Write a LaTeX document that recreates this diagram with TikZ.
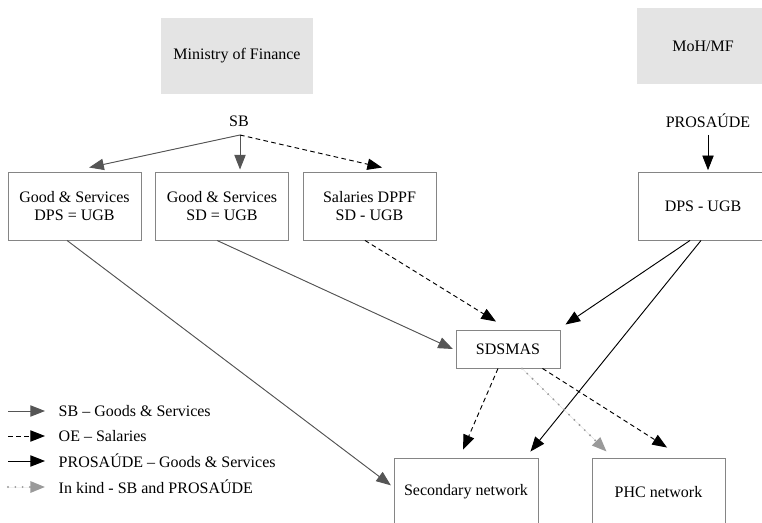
\documentclass[tikz,border=0pt]{standalone}
\usepackage{fontspec}
\setmainfont{Liberation Serif}
\usetikzlibrary{arrows.meta}
\definecolor{govgray}{HTML}{E4E4E4}
\definecolor{sbgray}{HTML}{555555}
\definecolor{boxline}{HTML}{858585}
\definecolor{kindgray}{HTML}{9A9A9A}

\begin{document}
\begin{tikzpicture}[x=0.75pt, y=-0.75pt,
    font=\fontsize{12}{14}\selectfont,
    tip/.style={-{Triangle[length=11pt,width=8.5pt]}},
    govbox/.style={fill=govgray, minimum height=57pt, align=center},
    box/.style={draw=boxline, line width=0.7pt, minimum height=51pt, minimum width=99.75pt, align=center},
    sbline/.style={tip, draw=sbgray, fill=sbgray, line width=0.7pt},
    oeline/.style={tip, black, line width=0.7pt, dash pattern=on 3.5pt off 2.5pt},
    proline/.style={tip, black, line width=0.7pt},
    kindline/.style={tip, draw=kindgray, fill=kindgray, line width=1.6pt, line cap=round, dash pattern=on 0pt off 5.5pt}]
        \useasboundingbox (0,0) rectangle (762,523);
        % funders
        \node[govbox, minimum width=114pt] (mof) at (237,56) {Ministry of Finance};
        \node[govbox, minimum width=99pt] (mohmf) at (703,46) {MoH/MF};
        \node (sb) at (239,121) {SB};
        \node (prosaude) at (708,121) {PROSAÚDE};
        \coordinate (sbfork) at (240,135);
        \coordinate (profork) at (708,135);
        % management units
        \node[box] (gsdps) at (74.5,206) {Good \& Services\\DPS = UGB};
        \node[box] (gssd) at (222,206) {Good \& Services\\SD = UGB};
        \node[box] (sal) at (369.5,206) {Salaries DPPF\\SD - UGB};
        \node[box, minimum width=97.5pt] (dps) at (703,206) {DPS - UGB};
        \node[box, minimum width=78pt, minimum height=28.5pt] (sdsmas) at (508,349) {SDSMAS};
        \node[box, minimum width=108pt] (sec) at (466,492) {Secondary network};
        \node[box] (phc) at (658.5,492) {PHC network};
        % flows
        \draw[sbline] (sbfork) -- ([xshift=11pt,yshift=3pt]gsdps.north);
        \draw[sbline] (sbfork) -- ([xshift=13.5pt,yshift=1.5pt]gssd.north);
        \draw[oeline] (sbfork) -- ([xshift=9.4pt,yshift=3pt]sal.north);
        \draw[proline] (profork) -- ([xshift=3.75pt,yshift=1pt]dps.north);
        \draw[sbline] ([xshift=-5.6pt]gsdps.south) -- ([xshift=-2pt,yshift=5pt]sec.west);
        \draw[sbline] ([xshift=-3.75pt]gssd.south) -- ([xshift=-2pt]sdsmas.west);
        \draw[oeline] ([xshift=-3.4pt]sal.south) -- ([xshift=-9pt,yshift=6pt]sdsmas.north);
        \draw[proline] ([xshift=-9.75pt]dps.south) -- ([xshift=3.75pt,yshift=3.75pt]sdsmas.north east);
        \draw[proline] ([xshift=-1.5pt]dps.south) -- ([xshift=-6pt,yshift=4.5pt]sec.north east);
        \draw[oeline] ([xshift=-7.5pt]sdsmas.south) -- ([xshift=-2.25pt,yshift=6pt]sec.north);
        \draw[kindline] ([xshift=10.5pt]sdsmas.south) -- ([xshift=11.25pt,yshift=4.5pt]phc.north west);
        \draw[oeline] ([xshift=-13.5pt]sdsmas.south east) -- ([xshift=6.4pt,yshift=7.5pt]phc.north);
        % key
        \coordinate (k1a) at (8,411);  \coordinate (k1b) at (45,411);
        \coordinate (k2a) at (8,436);  \coordinate (k2b) at (45,436);
        \coordinate (k3a) at (8,461);  \coordinate (k3b) at (45,461);
        \coordinate (k4a) at (8,487);  \coordinate (k4b) at (45,487);
        \draw[sbline] (k1a) -- (k1b);
        \draw[oeline] (k2a) -- (k2b);
        \draw[proline] (k3a) -- (k3b);
        \draw[kindline] (k4a) -- (k4b);
        \node[anchor=west] (key1) at (54,411) {SB -- Goods \& Services};
        \node[anchor=west] (key2) at (54,436) {OE -- Salaries};
        \node[anchor=west] (key3) at (54,461) {PROSAÚDE -- Goods \& Services};
        \node[anchor=west] (key4) at (54,487) {In kind - SB and PROSAÚDE};
\end{tikzpicture}
\end{document}
